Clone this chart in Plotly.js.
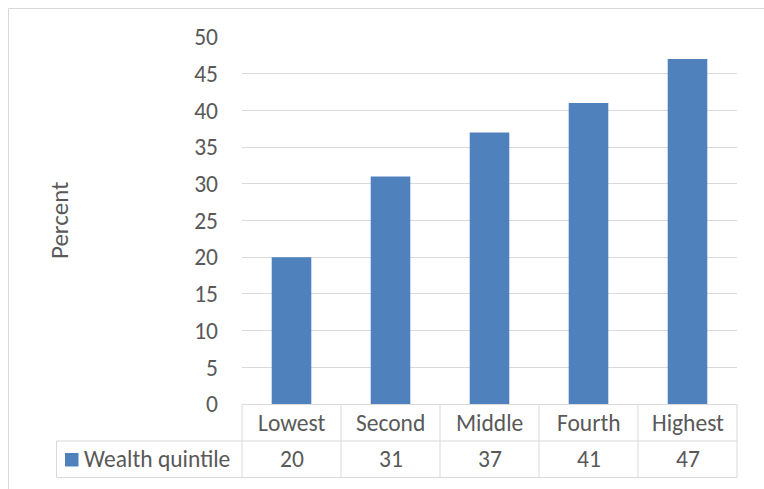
<!DOCTYPE html>
<html><head><meta charset="utf-8">
<script src="https://cdn.plot.ly/plotly-3.0.1.min.js"></script>
<style>html,body{margin:0;padding:0;background:#fff}</style>
</head><body><div id="chart" style="width:764px;height:489px"></div>
<script>
const categories = ["Lowest", "Second", "Middle", "Fourth", "Highest"];
const values = [20, 31, 37, 41, 47];
const seriesName = "Wealth quintile";
const yTicks = [0, 5, 10, 15, 20, 25, 30, 35, 40, 45, 50];

const FONT = "Carlito, Calibri, 'Liberation Sans Narrow', 'Open Sans', sans-serif";
const TXT = "#595959";
const GRID = "#d9d9d9";
const BAR = "#4f81bd";
const FS = 23.5;

// pixel helpers (plot area 242..737 x, 37..404 y)
const L = 242, R = 737, T = 37, B = 404;
const px = x => (x - L) / (R - L);
const py = y => (B - y) / (B - T);

const shapes = [];
const line = (x0, y0, x1, y1) => shapes.push({type: "line", xref: "paper", yref: "paper",
  x0: px(x0), y0: py(y0), x1: px(x1), y1: py(y1), line: {color: GRID, width: 1}});
// outer border
shapes.push({type: "rect", xref: "paper", yref: "paper", x0: px(8.5), y0: py(8.5), x1: px(780), y1: py(500),
  line: {color: GRID, width: 1}, fillcolor: "rgba(0,0,0,0)", layer: "below"});
const rowTop = 404.5, rowMid = 441, rowBot = 477.5, tableLeft = 56.5;
const cellW = (R - L) / categories.length;
line(L, rowTop, R, rowTop);
line(tableLeft, rowMid, R, rowMid);
line(tableLeft, rowBot, R, rowBot);
line(tableLeft, rowMid, tableLeft, rowBot);
for (let i = 0; i <= categories.length; i++) line(L + i * cellW, rowTop, L + i * cellW, rowBot);
// legend key
shapes.push({type: "rect", xref: "paper", yref: "paper", x0: px(65), y0: py(453), x1: px(78.5), y1: py(466.5),
  line: {width: 0}, fillcolor: BAR});

const annotations = [];
categories.forEach((c, i) => {
  annotations.push({xref: "paper", yref: "paper", x: px(L + (i + 0.5) * cellW), y: py((rowTop + rowMid) / 2),
    text: c, showarrow: false, xanchor: "center", yanchor: "middle", font: {family: FONT, size: FS, color: TXT}});
  annotations.push({xref: "paper", yref: "paper", x: px(L + (i + 0.5) * cellW), y: py((rowMid + rowBot) / 2),
    text: String(values[i]), showarrow: false, xanchor: "center", yanchor: "middle", font: {family: FONT, size: FS, color: TXT}});
});
annotations.push({xref: "paper", yref: "paper", x: px(82), y: py((rowMid + rowBot) / 2),
  text: seriesName, showarrow: false, xanchor: "left", yanchor: "middle", font: {family: FONT, size: FS, color: TXT}});
annotations.push({xref: "paper", yref: "paper", x: px(59), y: py(220),
  text: "Percent", showarrow: false, textangle: -90, xanchor: "center", yanchor: "middle", font: {family: FONT, size: 25, color: TXT}});

Plotly.newPlot("chart", [{
  type: "bar", x: categories, y: values, marker: {color: BAR}, width: 0.4, hoverinfo: "none"
}], {
  width: 764, height: 489,
  margin: {l: L, r: 764 - R, t: T, b: 489 - B, pad: 0},
  paper_bgcolor: "#fff", plot_bgcolor: "#fff",
  showlegend: false,
  xaxis: {showticklabels: false, showgrid: false, zeroline: false, showline: false, ticks: "", fixedrange: true},
  yaxis: {range: [0, 50], tickvals: yTicks, showgrid: true, gridcolor: GRID, gridwidth: 1, zeroline: false,
    showline: false, ticks: "", ticklabelstandoff: 23, tickfont: {family: FONT, size: FS, color: TXT}},
  shapes, annotations
}, {staticPlot: true});
</script></body></html>
